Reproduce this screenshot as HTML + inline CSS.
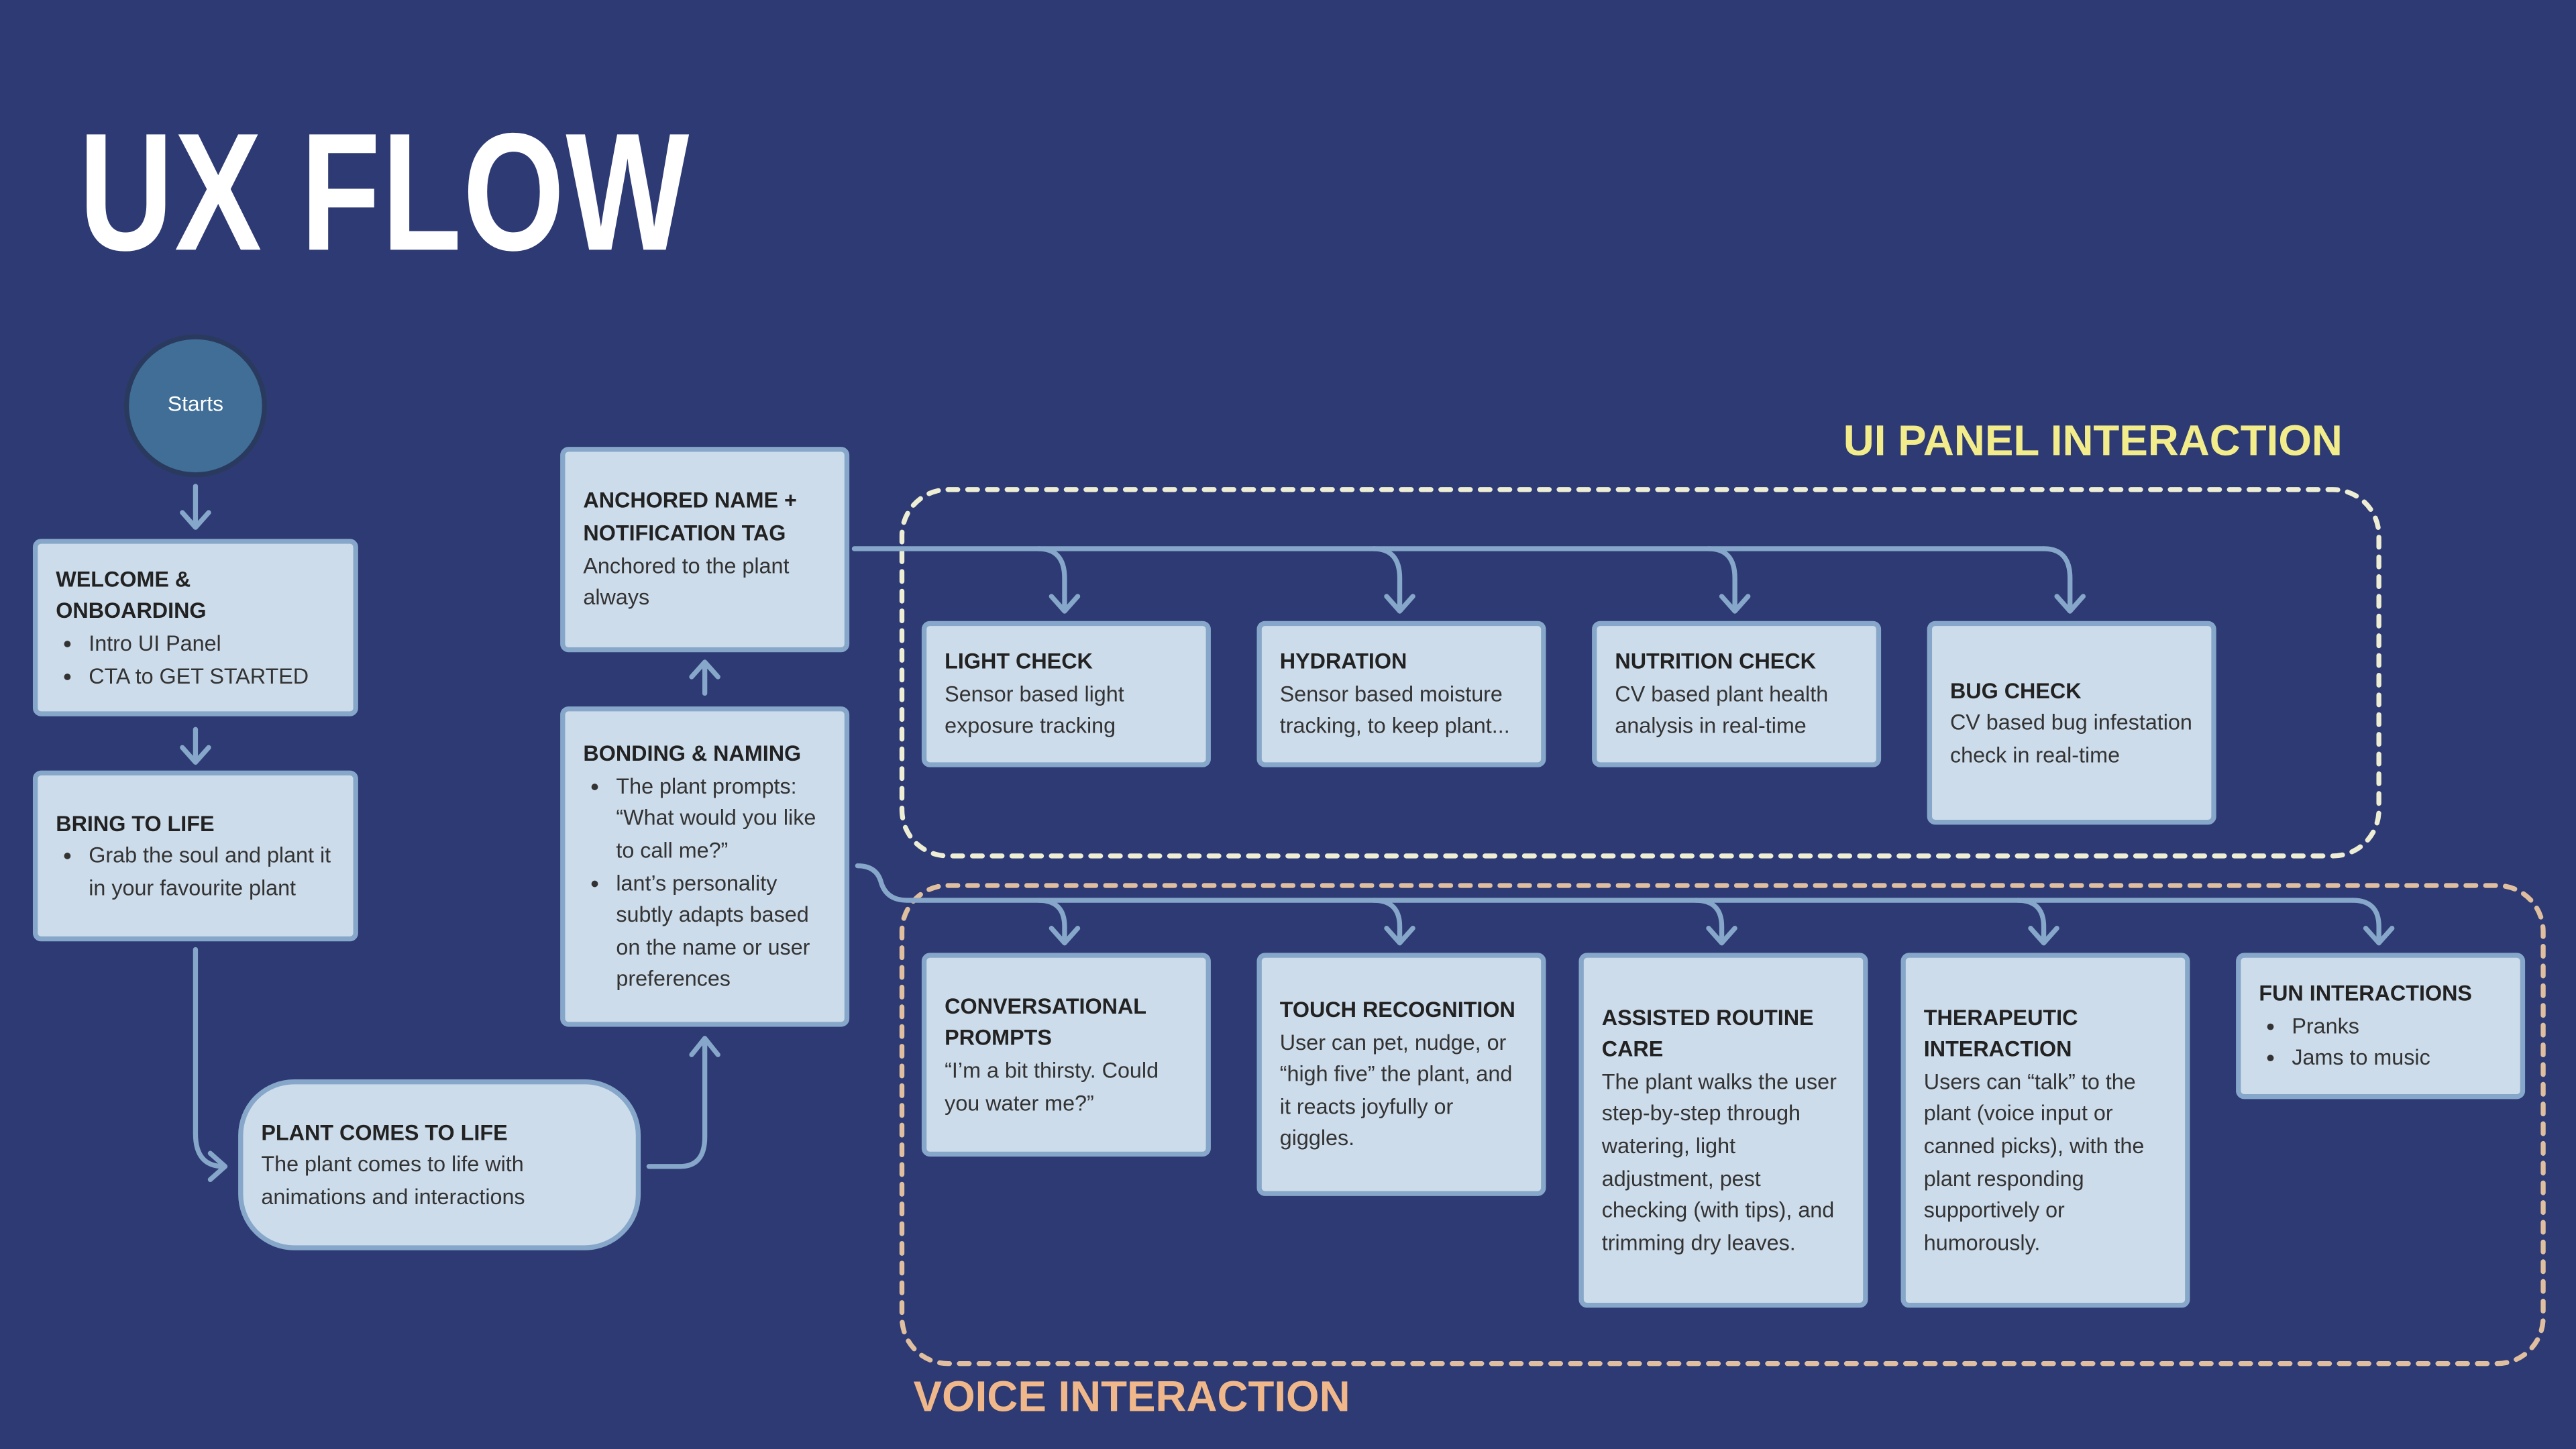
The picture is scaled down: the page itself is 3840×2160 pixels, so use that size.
<!DOCTYPE html>
<html><head><meta charset="utf-8"><style>
html,body{margin:0;padding:0;background:#2d3a74;}
#wrap{width:3840px;height:2160px;overflow:hidden;position:relative;background:#2d3a74;}
#s{position:absolute;left:0;top:0;width:1568px;height:882px;transform:scale(2.449);transform-origin:0 0;font-family:"Liberation Sans",sans-serif;}
.b{position:absolute;box-sizing:border-box;background:#cddceb;border:3px solid #86a7c9;border-radius:5px;padding:0 10px 0 11px;display:flex;flex-direction:column;justify-content:center;color:#333;font-size:13.2px;line-height:19.6px;}
.b h{display:block;font-weight:bold;color:#222;}
.b ul{margin:0;padding-left:20px;}
svg{position:absolute;left:0;top:0;}
</style></head><body><div id="wrap"><div id="s">
<div style="position:absolute;left:48px;top:62px;font-size:102px;font-weight:bold;color:#fff;transform:scaleX(0.78);transform-origin:0 0;letter-spacing:1px;line-height:110px;">UX FLOW</div>
<div style="position:absolute;left:1122px;top:253px;font-size:26px;font-weight:bold;color:#f2ec8a;">UI PANEL INTERACTION</div>
<div style="position:absolute;left:556px;top:835px;font-size:26px;font-weight:bold;color:#f0b88a;">VOICE INTERACTION</div>
<svg width="1568" height="882" viewBox="0 0 1568 882" fill="none" stroke-linecap="round" stroke-linejoin="round">
<rect x="549" y="298" width="899" height="223" rx="28" stroke="#eeeed4" stroke-width="3" stroke-dasharray="6 6"/>
<rect x="549" y="539" width="999" height="291" rx="28" stroke="#dfbf9f" stroke-width="3" stroke-dasharray="6 6"/>
<circle cx="119" cy="247" r="42" fill="#406e96" stroke="#2a3a5e" stroke-width="3"/>
<g stroke="#86a7c9" stroke-width="3">
<path d="M119 296V320M111 312L119 321L127 312"/>
<path d="M119 444V463M111 455L119 464L127 455"/>
<path d="M119 578V690Q119 710 136 710M128 702L137 710L128 718"/>
<path d="M395 710H414Q429 710 429 692V634M421 642L429 632L437 642"/>
<path d="M429 422V404M421 412L429 403L437 412"/>
<path d="M520 334H1244"/>
<path d="M632 334Q648 334 648 352V371M640 363L648 372L656 363"/>
<path d="M836 334Q852 334 852 352V371M844 363L852 372L860 363"/>
<path d="M1040 334Q1056 334 1056 352V371M1048 363L1056 372L1064 363"/>
<path d="M1244 334Q1260 334 1260 352V371M1252 363L1260 372L1268 363"/>
<path d="M522 527Q533 527 536 536Q539 548 552 548H1432"/>
<path d="M632 548Q648 548 648 564V573M640 565L648 574L656 565"/>
<path d="M836 548Q852 548 852 564V573M844 565L852 574L860 565"/>
<path d="M1032 548Q1048 548 1048 564V573M1040 565L1048 574L1056 565"/>
<path d="M1228 548Q1244 548 1244 564V573M1236 565L1244 574L1252 565"/>
<path d="M1432 548Q1448 548 1448 564V573M1440 565L1448 574L1456 565"/>
</g>
</svg>
<div style="position:absolute;left:77px;top:238px;width:84px;text-align:center;color:#fff;font-size:13px;">Starts</div>
<div class="b" style="left:20px;top:328px;width:198px;height:108px;"><h>WELCOME &amp;<br>ONBOARDING</h><ul><li>Intro UI Panel</li><li>CTA to GET STARTED</li></ul></div>
<div class="b" style="left:20px;top:469px;width:198px;height:104px;"><h>BRING TO LIFE</h><ul><li>Grab the soul and plant it in your favourite plant</li></ul></div>
<div class="b" style="left:145px;top:657px;width:245px;height:104px;border-radius:34px;"><h>PLANT COMES TO LIFE</h>The plant comes to life with animations and interactions</div>
<div class="b" style="left:341px;top:430px;width:176px;height:195px;"><h>BONDING &amp; NAMING</h><ul><li>The plant prompts: “What would you like to call me?”</li><li>lant’s personality subtly adapts based on the name or user preferences</li></ul></div>
<div class="b" style="left:341px;top:272px;width:176px;height:125px;"><h>ANCHORED NAME + NOTIFICATION TAG</h>Anchored to the plant always</div>
<div class="b" style="left:561px;top:378px;width:176px;height:89px;"><h>LIGHT CHECK</h>Sensor based light exposure tracking</div>
<div class="b" style="left:765px;top:378px;width:176px;height:89px;"><h>HYDRATION</h>Sensor based moisture tracking, to keep plant...</div>
<div class="b" style="left:969px;top:378px;width:176px;height:89px;"><h>NUTRITION CHECK</h>CV based plant health analysis in real-time</div>
<div class="b" style="left:1173px;top:378px;width:176px;height:124px;"><h>BUG CHECK</h>CV based bug infestation check in real-time</div>
<div class="b" style="left:561px;top:580px;width:176px;height:124px;"><h>CONVERSATIONAL PROMPTS</h>“I’m a bit thirsty. Could you water me?”</div>
<div class="b" style="left:765px;top:580px;width:176px;height:148px;"><h>TOUCH RECOGNITION</h>User can pet, nudge, or “high five” the plant, and it reacts joyfully or giggles.</div>
<div class="b" style="left:961px;top:580px;width:176px;height:216px;"><h>ASSISTED ROUTINE CARE</h>The plant walks the user step-by-step through watering, light adjustment, pest checking (with tips), and trimming dry leaves.</div>
<div class="b" style="left:1157px;top:580px;width:176px;height:216px;"><h>THERAPEUTIC INTERACTION</h>Users can “talk” to the plant (voice input or canned picks), with the plant responding supportively or humorously.</div>
<div class="b" style="left:1361px;top:580px;width:176px;height:89px;"><h>FUN INTERACTIONS</h><ul><li>Pranks</li><li>Jams to music</li></ul></div>
</div></div></body></html>
